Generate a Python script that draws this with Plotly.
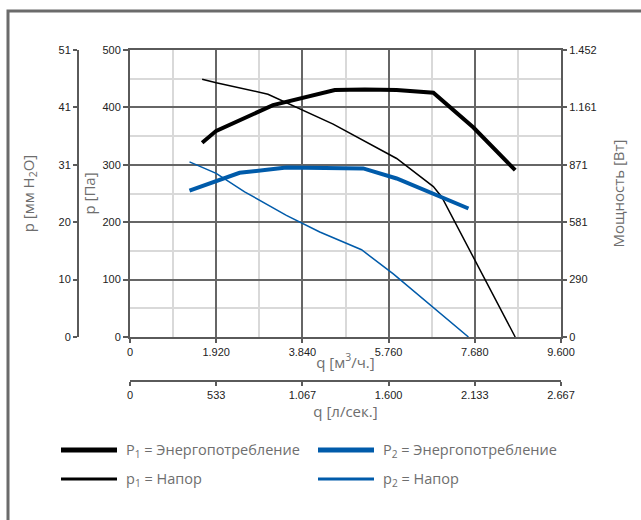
import plotly.graph_objects as go

# ---- data ----
q1_power = [1607, 1920, 3185, 4562, 5232, 5939, 6757, 7650, 8580]
P1_power = [983, 1043, 1173, 1249, 1252, 1249, 1236, 1060, 844]

q1_press = [1607, 1920, 3073, 4525, 5939, 6757, 6943, 7650, 8580]
p1_press = [449, 443, 423, 371, 311, 262, 244, 139, 0]

q2_power = [1325, 2441, 3483, 5194, 5939, 6831, 7539]
P2_power = [740, 831, 857, 853, 802, 718, 650]

q2_press = [1325, 1920, 2553, 3483, 4227, 5157, 5864, 6757, 7539]
p2_press = [305, 285, 253, 212, 183, 152, 110, 52, 0]

x_m3h_ticks = [0, 1920, 3840, 5760, 7680, 9600]
x_m3h_labels = ["0", "1.920", "3.840", "5.760", "7.680", "9.600"]
x_ls_ticks = [0, 533.33, 1066.67, 1600, 2133.33, 2666.67]
x_ls_labels = ["0", "533", "1.067", "1.600", "2.133", "2.667"]
y_pa_ticks = [0, 100, 200, 300, 400, 500]
y_mm_ticks = [0, 10.2, 20.4, 30.6, 40.8, 51]
y_mm_labels = ["0", "10", "20", "31", "41", "51"]
y_w_ticks = [0, 290.4, 580.8, 871.2, 1161.6, 1452]
y_w_labels = ["0", "290", "581", "871", "1.161", "1.452"]

BLACK = "#000000"
BLUE = "#005BAA"
AXC = "#5a5a5a"
GRID = "#666666"
MINOR = "#d9d9d9"
TXT = "#6e6e6e"
TICKF = dict(family="Liberation Sans, Arial", size=11, color="#222222")
TITLEF = dict(family="Open Sans", size=15, color=TXT)

W, H = 641, 520
ml, mr, mt, mb = 78, 80, 50, 139
pw, ph = W - ml - mr, H - mt - mb
ydom0 = (H - mb - 337) / ph
xdom0 = (130 - ml) / pw

fig = go.Figure()
fig.add_trace(go.Scatter(x=q1_press, y=p1_press, mode="lines",
                         line=dict(color=BLACK, width=1.5), yaxis="y", showlegend=False))
fig.add_trace(go.Scatter(x=q2_press, y=p2_press, mode="lines",
                         line=dict(color=BLUE, width=1.5), yaxis="y", showlegend=False))
fig.add_trace(go.Scatter(x=q1_power, y=P1_power, mode="lines",
                         line=dict(color=BLACK, width=4), yaxis="y2", showlegend=False))
fig.add_trace(go.Scatter(x=q2_power, y=P2_power, mode="lines",
                         line=dict(color=BLUE, width=4), yaxis="y2", showlegend=False))
# invisible traces to activate secondary axes
fig.add_trace(go.Scatter(x=[0], y=[0], xaxis="x2", yaxis="y", mode="markers",
                         marker=dict(opacity=0), showlegend=False, hoverinfo="skip"))
fig.add_trace(go.Scatter(x=[0], y=[0], yaxis="y3", mode="markers",
                         marker=dict(opacity=0), showlegend=False, hoverinfo="skip"))

fig.update_layout(
    width=W, height=H,
    margin=dict(l=ml, r=mr, t=mt, b=mb, autoexpand=False),
    paper_bgcolor="white", plot_bgcolor="white",
    showlegend=False,
    xaxis=dict(domain=[xdom0, 1], range=[0, 9600], tickvals=x_m3h_ticks, ticktext=x_m3h_labels,
               showline=True, linecolor=AXC, linewidth=2, ticks="outside", ticklen=4,
               tickcolor=AXC, tickwidth=2, tickfont=TICKF,
               showgrid=True, gridcolor=GRID, gridwidth=1.5, zeroline=False,
               minor=dict(dtick=960, tick0=0, showgrid=True, gridcolor=MINOR, gridwidth=1.5),
               title=dict(text="q [м<sup>3</sup>/ч.]", font=TITLEF, standoff=0),
               anchor="y", mirror=True, automargin=False),
    xaxis2=dict(domain=[xdom0, 1], range=[0, 2666.67], tickvals=x_ls_ticks, ticktext=x_ls_labels,
                anchor="free", position=0, overlaying="x", side="bottom",
                showline=True, linecolor=AXC, linewidth=2, ticks="outside", ticklen=4,
                tickcolor=AXC, tickwidth=2, tickfont=TICKF, showgrid=False, zeroline=False,
                title=dict(text="q [л/сек.]", font=TITLEF, standoff=0), automargin=False),
    yaxis=dict(domain=[ydom0, 1], range=[0, 500], tickvals=y_pa_ticks,
               showline=True, linecolor=AXC, linewidth=2, ticks="outside", ticklen=5,
               tickcolor=AXC, tickwidth=2, tickfont=TICKF,
               showgrid=True, gridcolor=GRID, gridwidth=1.5, zeroline=False,
               minor=dict(dtick=50, tick0=0, showgrid=True, gridcolor=MINOR, gridwidth=1.5),
               title=dict(text="p [Па]", font=TITLEF, standoff=3), anchor="x", automargin=False),
    yaxis2=dict(domain=[ydom0, 1], range=[0, 1452], tickvals=y_w_ticks, ticktext=y_w_labels,
                overlaying="y", side="right", anchor="x",
                showline=True, linecolor=AXC, linewidth=2, ticks="outside", ticklen=4,
                tickcolor=AXC, tickwidth=2, tickfont=TICKF, showgrid=False, zeroline=False,
                title=dict(text="Мощность [Вт]", font=TITLEF, standoff=18), automargin=False),
    yaxis3=dict(domain=[ydom0, 1], range=[0, 51], tickvals=y_mm_ticks, ticktext=y_mm_labels,
                overlaying="y", side="left", anchor="free", position=0,
                showline=True, linecolor=AXC, linewidth=2, ticks="outside", ticklen=4,
                tickcolor=AXC, tickwidth=2, tickfont=TICKF, showgrid=False, zeroline=False,
                title=dict(text="p [мм H<sub>2</sub>O]", font=TITLEF, standoff=19), automargin=False),
)

# page frame (top and left edges visible)
fig.add_shape(type="rect", xref="paper", yref="paper",
              x0=(8 - ml) / pw, x1=(W + 20 - ml) / pw,
              y0=-(mb + 20) / ph, y1=1 + (mt - 11) / ph,
              line=dict(color="#6b6b6b", width=3), layer="below")

# custom legend
def px_x(x):
    return (x - ml) / pw

def px_y(y):
    return (H - mb - y) / ph

legend_items = [
    (61, 117, 450, BLACK, 5, "P<sub>1</sub> = Энергопотребление"),
    (61, 117, 479, BLACK, 3, "p<sub>1</sub> = Напор"),
    (318, 374, 450, BLUE, 5, "P<sub>2</sub> = Энергопотребление"),
    (318, 374, 479, BLUE, 3, "p<sub>2</sub> = Напор"),
]
for x0, x1, yy, col, wd, label in legend_items:
    fig.add_shape(type="line", xref="paper", yref="paper",
                  x0=px_x(x0), x1=px_x(x1), y0=px_y(yy), y1=px_y(yy),
                  line=dict(color=col, width=wd))
    fig.add_annotation(xref="paper", yref="paper", x=px_x(x1 + 7), y=px_y(yy),
                       text=label, showarrow=False, xanchor="left", yanchor="middle",
                       font=dict(family="Open Sans", size=14.5, color=TXT))

fig.write_html("out.html", config={"displayModeBar": False},
               post_script="document.body.style.margin='0';document.body.style.overflow='hidden';")
